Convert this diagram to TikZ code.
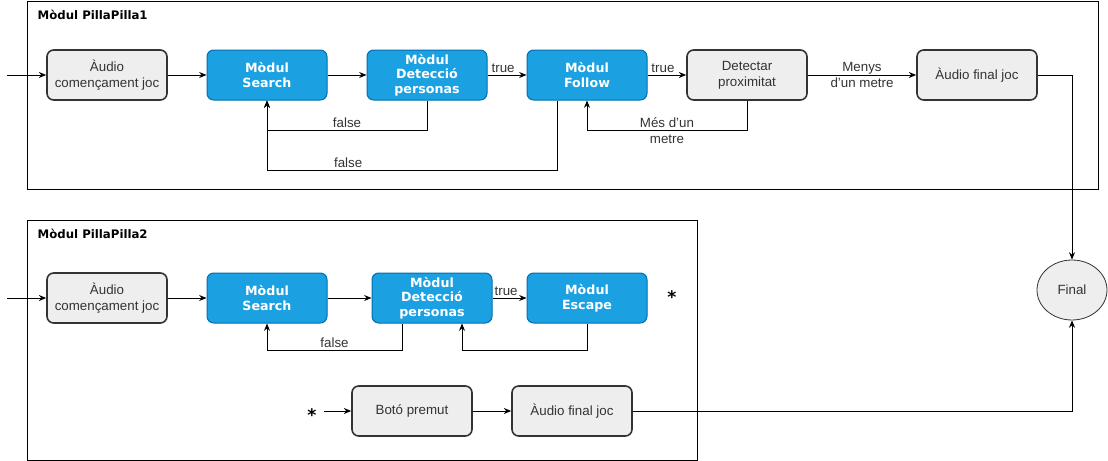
\documentclass[tikz,border=0pt]{standalone}
\usepackage{fontspec}
\setmainfont{Liberation Sans}
\newfontfamily\boldsans{DejaVu Sans}
\usepackage{xcolor}
\usetikzlibrary{arrows.meta,positioning,calc,shapes.geometric}
\definecolor{modblue}{HTML}{1BA1E2}
\definecolor{modedge}{HTML}{006EAF}
\definecolor{boxgray}{HTML}{EEEEEE}
\definecolor{boxedge}{HTML}{333333}

\begin{document}
\begin{tikzpicture}[x=0.75pt, y=-0.75pt, >={Stealth[length=5.5pt,width=4.5pt]},
  graybox/.style={draw=boxedge, line width=1.2pt, fill=boxgray, rounded corners=5pt,
    minimum width=90pt, minimum height=37.5pt, align=center, inner sep=1pt, text=boxedge,
    font=\fontsize{10}{12}\selectfont},
  bluebox/.style={draw=modedge, line width=0.75pt, fill=modblue, rounded corners=5pt,
    minimum width=90pt, minimum height=37.5pt, align=center, inner sep=1pt, text=white,
    font=\boldsans\bfseries\fontsize{9.5}{11}\selectfont},
  flow/.style={->, line width=0.75pt},
  lbl/.style={font=\fontsize{10}{12}\selectfont, inner sep=1.5pt, align=center, text=boxedge},
  frametitle/.style={font=\boldsans\bfseries\fontsize{8.8}{10}\selectfont, anchor=west},
  star/.style={font=\boldsans\bfseries\fontsize{13}{13}\selectfont, inner sep=1pt}]
  \useasboundingbox (0,0) rectangle (1108,461);

  % frames
  \draw[line width=0.75pt] (27,1) rectangle (1098,189);
  \node[frametitle] (title1) at (33,15) {Mòdul PillaPilla1};
  \draw[line width=0.75pt] (27,220) rectangle (697,460);
  \node[frametitle] (title2) at (33,234) {Mòdul PillaPilla2};

  % PillaPilla1
  \coordinate (in1) at (7,75);
  \node[graybox] (aud1) at (107,75) {Àudio\\començament joc};
  \node[bluebox] (srch1) at (267,75) {Mòdul\\Search};
  \node[bluebox] (det1) at (427,75) {Mòdul\\Detecció\\personas};
  \node[bluebox] (fol1) at (587,75) {Mòdul\\Follow};
  \node[graybox] (prox1) at (747,75) {Detectar\\proximitat};
  \node[graybox] (end1) at (977,75) {Àudio final joc};

  \draw[flow] (in1) -- (aud1);
  \draw[flow] (aud1) -- (srch1);
  \draw[flow] (srch1) -- (det1);
  \draw[flow] (det1) -- node[lbl, pos=0.4, above] {true} (fol1);
  \draw[flow] (fol1) -- node[lbl, pos=0.4, above] {true} (prox1);
  \draw[flow] (prox1) -- node[lbl] {Menys\\d'un metre} (end1);
  \draw[flow] (det1.south) -- ++(0,30) -| node[lbl, pos=0.25, above] {false} (srch1.south);
  \draw[flow] ($(fol1.south)+(-30,0)$) -- ++(0,70) -| node[lbl, pos=0.36, above] {false} (srch1.south);
  \draw[flow] (prox1.south) -- ++(0,30) -| node[lbl, pos=0.25] {Més d'un\\metre} (fol1.south);

  % PillaPilla2
  \coordinate (in2) at (7,298);
  \node[graybox] (aud2) at (107,298) {Àudio\\començament joc};
  \node[bluebox] (srch2) at (267,298) {Mòdul\\Search};
  \node[bluebox] (det2) at (432,298) {Mòdul\\Detecció\\personas};
  \node[bluebox] (esc2) at (587,298) {Mòdul\\Escape};
  \node[star] (star1) at (672,297) {*};

  \draw[flow] (in2) -- (aud2);
  \draw[flow] (aud2) -- (srch2);
  \draw[flow] (srch2) -- (det2);
  \draw[flow] (det2) -- node[lbl, pos=0.4, above] {true} (esc2);
  \draw[flow] ($(det2.south)+(-30,0)$) -- ++(0,27) -| node[lbl, pos=0.25, above] {false} (srch2.south);
  \draw[flow] (esc2.south) -- ++(0,27) -| ($(det2.south)+(30,0)$);

  \node[star] (star2) at (312,415) {*};
  \node[graybox] (btn2) at (412,411) {Botó premut};
  \node[graybox] (end2) at (572,411) {Àudio final joc};

  \draw[flow] (star2.east |- btn2) ++(6,0) -- (btn2);
  \draw[flow] (btn2) -- (end2);

  % final
  \node[draw=boxedge, line width=0.6pt, fill=boxgray, ellipse, minimum width=52.5pt,
    minimum height=45pt, inner sep=0pt, text=boxedge, font=\fontsize{10}{12}\selectfont] (fin) at (1072,290) {Final};
  \draw[flow] (end1) -| (fin.north);
  \draw[flow] (end2) -| (fin.south);
\end{tikzpicture}
\end{document}
